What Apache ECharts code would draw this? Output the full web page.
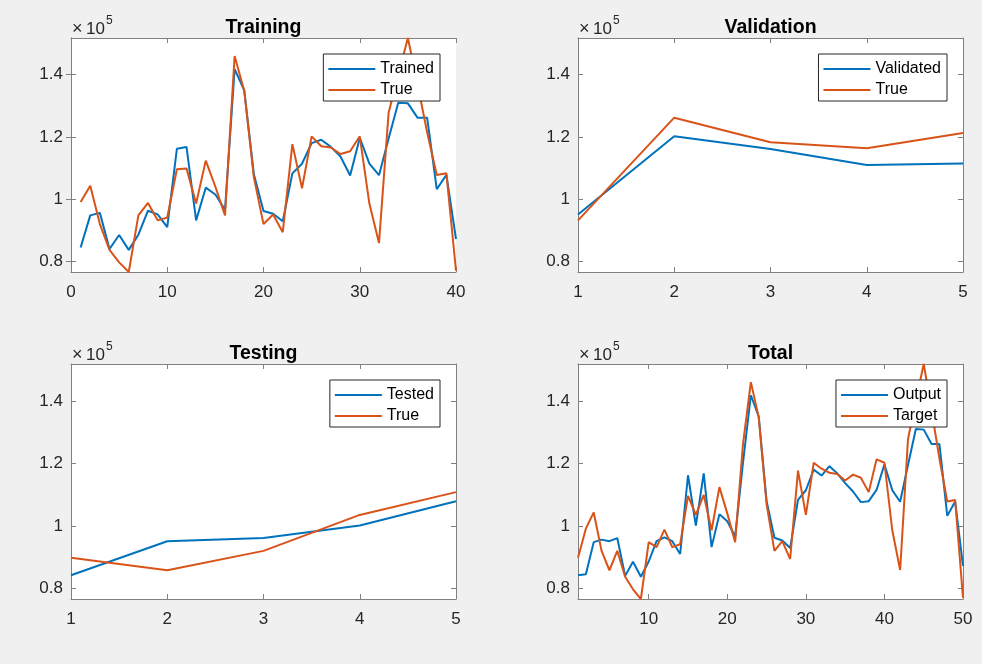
<!DOCTYPE html>
<html>
<head>
<meta charset="utf-8">
<script src="https://cdn.jsdelivr.net/npm/echarts@6/dist/echarts.min.js"></script>
<style>
  html, body { margin: 0; padding: 0; background: #f0f0f0; }
  #chart { width: 982px; height: 664px; }
</style>
</head>
<body>
<div id="chart"></div>
<script>
// Network outputs vs. true values for each data split
const trainedOut = [84500, 94800, 95600, 84000, 88500, 83700, 88600, 96300, 95100, 91000,
  116200, 116800, 93200, 103700, 101500, 96600, 141800, 135000, 108000, 96200,
  95300, 92900, 108300, 111400, 118000, 119100, 116800, 113700, 107600, 119700,
  111400, 107700, 119500, 131000, 130800, 126200, 126200, 103200, 107800, 87200];
const trainedTrue = [99100, 104300, 92000, 83700, 79700, 76600, 94800, 98800, 93200, 94100,
  109600, 109900, 98600, 112400, 104000, 94800, 146000, 134800, 107000, 92000,
  95100, 89400, 117700, 103500, 120200, 117000, 116600, 114500, 115400, 120200,
  98600, 85900, 127800, 140000, 151800, 137000, 121500, 107800, 108300, 77000];

const validatedOut = [95100, 120200, 116100, 111000, 111500];
const validatedTrue = [93200, 126200, 118300, 116400, 121300];

const testedOut = [84200, 95100, 96100, 100100, 107900];
const testedTrue = [89800, 85800, 92000, 103500, 110800];

const totalOutput = [84200, 84500, 94800, 95600, 95100, 96100, 84000, 88500, 83700, 88600,
  95100, 96300, 95100, 91000, 116200, 100100, 116800, 93200, 103700, 101500,
  96600, 120200, 141800, 135000, 108000, 96200, 95300, 92900, 108300, 111400,
  118000, 116100, 119100, 116800, 113700, 111000, 107600, 107900, 111500, 119700,
  111400, 107700, 119500, 131000, 130800, 126200, 126200, 103200, 107800, 87200];
const totalTarget = [89800, 99100, 104300, 92000, 85800, 92000, 83700, 79700, 76600, 94800,
  93200, 98800, 93200, 94100, 109600, 103500, 109900, 98600, 112400, 104000,
  94800, 126200, 146000, 134800, 107000, 92000, 95100, 89400, 117700, 103500,
  120200, 118300, 117000, 116600, 114500, 116400, 115400, 110800, 121300, 120200,
  98600, 85900, 127800, 140000, 151800, 137000, 121500, 107800, 108300, 77000];

// Tick labels
const yTicks = [80000, 100000, 120000, 140000];
const trainXTicks = [0, 10, 20, 30, 40];
const smallXTicks = [1, 2, 3, 4, 5];
const totalXTicks = [10, 20, 30, 40, 50];

const FONT = "'Liberation Sans', Arial, Helvetica, sans-serif";
const BLUE = '#0072BD';
const RED = '#D95319';
const BOX = '#808080';
const LABEL = '#262626';

const allValues = totalOutput.concat(totalTarget);
const yMin = Math.min.apply(null, allValues);
const yMax = Math.max.apply(null, allValues);

const panels = [
  { title: 'Training', names: ['Trained', 'True'], out: trainedOut, tgt: trainedTrue,
    xMin: 0, xMax: 40, xTicks: trainXTicks, box: { left: 71, top: 38, width: 385, height: 234 } },
  { title: 'Validation', names: ['Validated', 'True'], out: validatedOut, tgt: validatedTrue,
    xMin: 1, xMax: 5, xTicks: smallXTicks, box: { left: 578, top: 38, width: 385, height: 234 } },
  { title: 'Testing', names: ['Tested', 'True'], out: testedOut, tgt: testedTrue,
    xMin: 1, xMax: 5, xTicks: smallXTicks, box: { left: 71, top: 364, width: 385, height: 235 } },
  { title: 'Total', names: ['Output', 'Target'], out: totalOutput, tgt: totalTarget,
    xMin: 1, xMax: 50, xTicks: totalXTicks, box: { left: 578, top: 364, width: 385, height: 235 } }
];

const fmtY = v => String(+(v / 1e5).toFixed(1));

const grid = [], xAxis = [], yAxis = [], series = [], legend = [], graphic = [];

panels.forEach((p, i) => {
  grid.push({ left: p.box.left, top: p.box.top, width: p.box.width, height: p.box.height,
    show: true, backgroundColor: '#ffffff', borderWidth: 0 });

  const axisLine = { show: true, lineStyle: { color: BOX, width: 1 } };
  // ticks point into the plot box on all four sides
  const tick = values => ({ show: true, inside: true, length: 5,
    lineStyle: { color: BOX, width: 1 }, customValues: values });

  // bottom axis with labels, top axis with ticks only
  xAxis.push({
    type: 'value', gridIndex: i, position: 'bottom', min: p.xMin, max: p.xMax,
    axisLine: axisLine, splitLine: { show: false }, axisTick: tick(p.xTicks),
    axisLabel: { show: true, margin: 12, fontSize: 17, fontFamily: FONT, color: LABEL, customValues: p.xTicks }
  });
  xAxis.push({
    type: 'value', gridIndex: i, position: 'top', min: p.xMin, max: p.xMax,
    axisLine: axisLine, splitLine: { show: false }, axisTick: tick(p.xTicks),
    axisLabel: { show: false }
  });
  yAxis.push({
    type: 'value', gridIndex: i, position: 'left', min: yMin, max: yMax,
    axisLine: axisLine, splitLine: { show: false }, axisTick: tick(yTicks),
    axisLabel: { show: true, margin: 8, fontSize: 17, fontFamily: FONT, color: LABEL,
      customValues: yTicks, formatter: fmtY }
  });
  yAxis.push({
    type: 'value', gridIndex: i, position: 'right', min: yMin, max: yMax,
    axisLine: axisLine, splitLine: { show: false }, axisTick: tick(yTicks),
    axisLabel: { show: false }
  });

  [[p.names[0], p.out, BLUE], [p.names[1], p.tgt, RED]].forEach(([name, vals, color]) => {
    series.push({
      type: 'line', name: name, xAxisIndex: 2 * i, yAxisIndex: 2 * i,
      data: vals.map((v, k) => [k + 1, v]),
      showSymbol: false, symbol: 'none', clip: true,
      lineStyle: { color: color, width: 2 }, itemStyle: { color: color },
      emphasis: { disabled: true }
    });
  });

  legend.push({
    data: p.names.map((n, k) => ({ name: n, itemStyle: { color: k === 0 ? BLUE : RED } })),
    orient: 'vertical', icon: 'rect', itemWidth: 47, itemHeight: 2, itemGap: 3,
    right: 982 - (p.box.left + p.box.width - 16), top: p.box.top + 16,
    padding: [6, 6, 2, 5], backgroundColor: '#ffffff', borderColor: '#262626', borderWidth: 1,
    borderRadius: 0, selectedMode: false,
    textStyle: { fontSize: 16, fontFamily: FONT, color: '#000000', lineHeight: 18 }
  });

  // panel title
  graphic.push({
    type: 'text', x: p.box.left + p.box.width / 2, y: p.box.top - 10,
    style: { text: p.title, font: 'bold 19.5px ' + FONT, fill: '#000000',
      textAlign: 'center', textVerticalAlign: 'middle', align: 'center', verticalAlign: 'middle' }
  });
  // exponent label above the y axis
  graphic.push({
    type: 'text', x: p.box.left + 1, y: p.box.top - 9,
    style: { text: '\u00d7', font: '18px ' + FONT, fill: LABEL,
      textAlign: 'left', textVerticalAlign: 'middle', align: 'left', verticalAlign: 'middle' }
  });
  graphic.push({
    type: 'text', x: p.box.left + 15, y: p.box.top - 9,
    style: { text: '10', font: '17px ' + FONT, fill: LABEL,
      textAlign: 'left', textVerticalAlign: 'middle', align: 'left', verticalAlign: 'middle' }
  });
  graphic.push({
    type: 'text', x: p.box.left + 35, y: p.box.top - 17,
    style: { text: '5', font: '12px ' + FONT, fill: LABEL,
      textAlign: 'left', textVerticalAlign: 'middle', align: 'left', verticalAlign: 'middle' }
  });
});

const chart = echarts.init(document.getElementById('chart'), null, { renderer: 'canvas' });
chart.setOption({
  backgroundColor: '#f0f0f0',
  animation: false,
  grid: grid, xAxis: xAxis, yAxis: yAxis, series: series, legend: legend, graphic: graphic
});
</script>
</body>
</html>
